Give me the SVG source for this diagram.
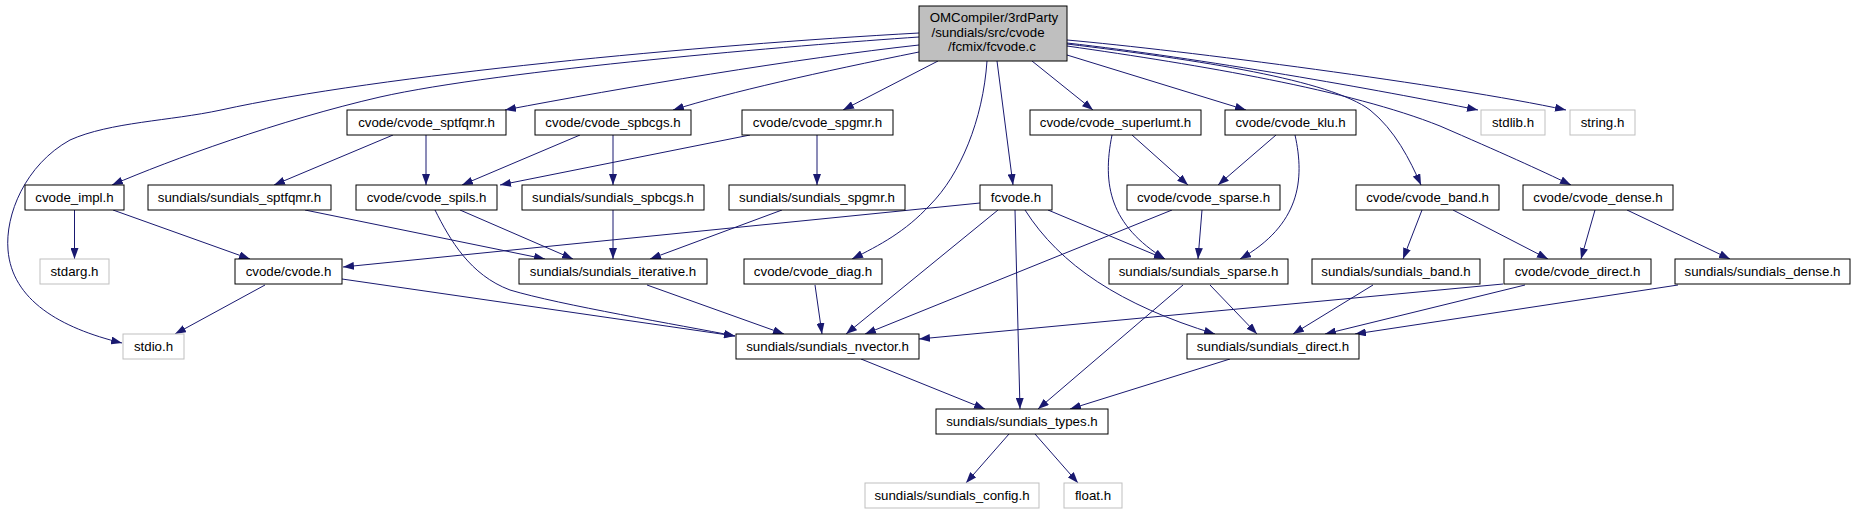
<svg xmlns="http://www.w3.org/2000/svg" width="1855" height="515" viewBox="0 0 1855 515">
<style>
.n rect{fill:#ffffff;stroke:#000000;stroke-width:1}
.g rect{fill:#ffffff;stroke:#bfbfbf;stroke-width:1}
.m rect{fill:#bfbfbf;stroke:#000000;stroke-width:1}
text{font-family:"Liberation Sans",Arial,Helvetica,sans-serif;font-size:13.3px;fill:#000000;text-anchor:middle}
#edges path{fill:none;stroke:#191970;stroke-width:1;marker-end:url(#arr)}
</style>
<defs>
<marker id="arr" markerWidth="11" markerHeight="8" refX="11" refY="4" orient="auto" markerUnits="userSpaceOnUse">
<path d="M0,0 L11,4 L0,8 z" fill="#191970"/>
</marker>
</defs>
<rect width="1855" height="515" fill="#ffffff"/>
<g id="edges">
<path d="M919,33 C700,45 380,75 221,110 C170,121 110,122 70,140 C25,165 5,215 8,250 C12,300 60,328 122,343"/>
<path d="M919,37 C800,45 500,70 380,97 C280,120 170,160 112,185"/>
<path d="M919,45 C800,58 620,88 505,110"/>
<path d="M919,52 C820,72 730,92 673,110"/>
<path d="M938,61 L843,110"/>
<path d="M987,61 C983,120 960,175 930,205 C905,232 880,245 852,259"/>
<path d="M997,61 L1013,185"/>
<path d="M1032,61 L1093,110"/>
<path d="M1067,55 L1246,110"/>
<path d="M1067,43 C1200,58 1380,90 1478,110"/>
<path d="M1067,40 C1180,50 1450,85 1566,110"/>
<path d="M1067,44 C1200,60 1330,80 1370,110 C1395,130 1410,160 1421,185"/>
<path d="M1067,46 C1200,65 1350,90 1440,126 C1500,152 1540,170 1571,185"/>
<path d="M393,135 L274,185"/>
<path d="M426,135 L426,185"/>
<path d="M580,135 L462,185"/>
<path d="M613,135 L613,185"/>
<path d="M750,135 L500,185"/>
<path d="M817,135 L817,185"/>
<path d="M1132,135 L1188,185"/>
<path d="M1112,135 C1102,185 1110,225 1165,259"/>
<path d="M1276,135 L1218,185"/>
<path d="M1295,135 C1305,180 1300,225 1240,259"/>
<path d="M74.5,210 L74.5,259"/>
<path d="M113,210 L250,259"/>
<path d="M305,210 L545,259"/>
<path d="M460,210 L573,259"/>
<path d="M435,210 C450,240 470,275 510,290 C560,305 680,325 735,336"/>
<path d="M613,210 L613,259"/>
<path d="M782,210 L650,259"/>
<path d="M980,203 L343,267"/>
<path d="M998,210 L846,334"/>
<path d="M1015,210 L1020,409"/>
<path d="M1025,210 C1060,265 1120,305 1215,334"/>
<path d="M1048,210 L1165,259"/>
<path d="M1202,210 L1198,259"/>
<path d="M1172,210 L865,334"/>
<path d="M1422,210 L1403,259"/>
<path d="M1453,210 L1548,259"/>
<path d="M1595,210 L1581,259"/>
<path d="M1627,210 L1730,259"/>
<path d="M265,285 L175,334"/>
<path d="M342,279 L735,336"/>
<path d="M647,285 L784,334"/>
<path d="M815,285 L822,334"/>
<path d="M1210,285 L1257,334"/>
<path d="M1183,285 L1038,409"/>
<path d="M1373,285 L1293,334"/>
<path d="M1525,285 L1325,334"/>
<path d="M1503,284 L919,339"/>
<path d="M1678,285 L1355,334"/>
<path d="M861,359 L985,409"/>
<path d="M1230,359 L1070,409"/>
<path d="M1009,434 L966,483"/>
<path d="M1035,434 L1078,483"/>
</g>
<g id="node_main" class="m"><rect x="919" y="6" width="148" height="55"/><text x="994" y="21.5">OMCompiler/3rdParty</text><text x="988" y="36.5">/sundials/src/cvode</text><text x="992" y="51">/fcmix/fcvode.c</text></g>
<g id="node_cvode_sptfqmr" class="n"><rect x="347" y="110" width="159" height="25"/><text x="426.5" y="127">cvode/cvode_sptfqmr.h</text></g>
<g id="node_cvode_spbcgs" class="n"><rect x="535" y="110" width="156" height="25"/><text x="613" y="127">cvode/cvode_spbcgs.h</text></g>
<g id="node_cvode_spgmr" class="n"><rect x="742" y="110" width="151" height="25"/><text x="817.5" y="127">cvode/cvode_spgmr.h</text></g>
<g id="node_cvode_superlumt" class="n"><rect x="1030" y="110" width="171" height="25"/><text x="1115.5" y="127">cvode/cvode_superlumt.h</text></g>
<g id="node_cvode_klu" class="n"><rect x="1225" y="110" width="131" height="25"/><text x="1290.5" y="127">cvode/cvode_klu.h</text></g>
<g id="node_stdlib" class="g"><rect x="1481" y="110" width="64" height="25"/><text x="1513" y="127">stdlib.h</text></g>
<g id="node_string" class="g"><rect x="1570" y="110" width="65" height="25"/><text x="1602.5" y="127">string.h</text></g>
<g id="node_cvode_impl" class="n"><rect x="25" y="185" width="99" height="25"/><text x="74.5" y="202">cvode_impl.h</text></g>
<g id="node_sundials_sptfqmr" class="n"><rect x="148" y="185" width="183" height="25"/><text x="239.5" y="202">sundials/sundials_sptfqmr.h</text></g>
<g id="node_cvode_spils" class="n"><rect x="356" y="185" width="141" height="25"/><text x="426.5" y="202">cvode/cvode_spils.h</text></g>
<g id="node_sundials_spbcgs" class="n"><rect x="522" y="185" width="182" height="25"/><text x="613" y="202">sundials/sundials_spbcgs.h</text></g>
<g id="node_sundials_spgmr" class="n"><rect x="729" y="185" width="176" height="25"/><text x="817" y="202">sundials/sundials_spgmr.h</text></g>
<g id="node_fcvode_h" class="n"><rect x="980" y="185" width="72" height="25"/><text x="1016" y="202">fcvode.h</text></g>
<g id="node_cvode_sparse" class="n"><rect x="1127" y="185" width="153" height="25"/><text x="1203.5" y="202">cvode/cvode_sparse.h</text></g>
<g id="node_cvode_band" class="n"><rect x="1356" y="185" width="143" height="25"/><text x="1427.5" y="202">cvode/cvode_band.h</text></g>
<g id="node_cvode_dense" class="n"><rect x="1523" y="185" width="150" height="25"/><text x="1598" y="202">cvode/cvode_dense.h</text></g>
<g id="node_stdarg" class="g"><rect x="40" y="259" width="69" height="25"/><text x="74.5" y="276">stdarg.h</text></g>
<g id="node_cvode_h" class="n"><rect x="235" y="259" width="107" height="25"/><text x="288.5" y="276">cvode/cvode.h</text></g>
<g id="node_sundials_iterative" class="n"><rect x="519" y="259" width="188" height="25"/><text x="613" y="276">sundials/sundials_iterative.h</text></g>
<g id="node_cvode_diag" class="n"><rect x="744" y="259" width="138" height="25"/><text x="813" y="276">cvode/cvode_diag.h</text></g>
<g id="node_sundials_sparse" class="n"><rect x="1109" y="259" width="179" height="25"/><text x="1198.5" y="276">sundials/sundials_sparse.h</text></g>
<g id="node_sundials_band" class="n"><rect x="1312" y="259" width="168" height="25"/><text x="1396" y="276">sundials/sundials_band.h</text></g>
<g id="node_cvode_direct" class="n"><rect x="1504" y="259" width="147" height="25"/><text x="1577.5" y="276">cvode/cvode_direct.h</text></g>
<g id="node_sundials_dense" class="n"><rect x="1675" y="259" width="175" height="25"/><text x="1762.5" y="276">sundials/sundials_dense.h</text></g>
<g id="node_stdio" class="g"><rect x="123" y="334" width="61" height="25"/><text x="153.5" y="351">stdio.h</text></g>
<g id="node_sundials_nvector" class="n"><rect x="736" y="334" width="183" height="25"/><text x="827.5" y="351">sundials/sundials_nvector.h</text></g>
<g id="node_sundials_direct" class="n"><rect x="1187" y="334" width="172" height="25"/><text x="1273" y="351">sundials/sundials_direct.h</text></g>
<g id="node_sundials_types" class="n"><rect x="936" y="409" width="172" height="25"/><text x="1022" y="426">sundials/sundials_types.h</text></g>
<g id="node_sundials_config" class="g"><rect x="865" y="483" width="174" height="25"/><text x="952" y="500">sundials/sundials_config.h</text></g>
<g id="node_float" class="g"><rect x="1064" y="483" width="58" height="25"/><text x="1093" y="500">float.h</text></g>
</svg>
